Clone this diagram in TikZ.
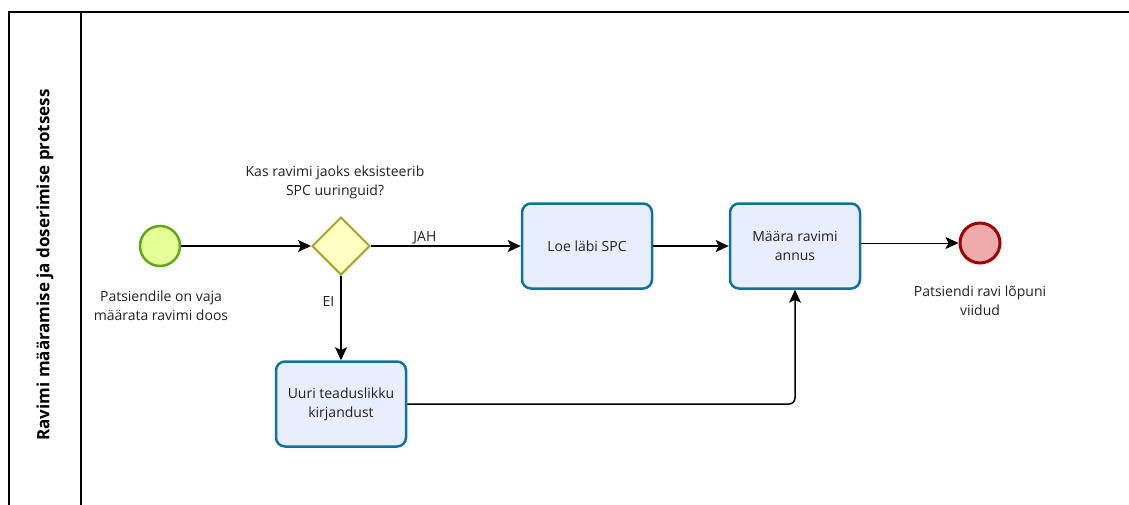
\documentclass[tikz,border=0pt]{standalone}
\usepackage{fontspec}
\setmainfont{Open Sans}
\usetikzlibrary{arrows.meta,shapes.geometric}
\definecolor{startfill}{HTML}{E6FF97}
\definecolor{startdraw}{HTML}{62A716}
\definecolor{gwfill}{HTML}{FFFFC4}
\definecolor{gwdraw}{HTML}{A8A62A}
\definecolor{taskfill}{HTML}{E9EEFF}
\definecolor{taskdraw}{HTML}{10739E}
\definecolor{endfill}{HTML}{EFAAAA}
\definecolor{enddraw}{HTML}{A20000}
\definecolor{txt}{HTML}{222222}
\tikzset{
  lbl/.style={font=\fontsize{14}{19}\selectfont, text=txt, align=center, inner sep=0pt},
  startev/.style={circle, minimum size=40pt, inner sep=0pt, fill=startfill, draw=startdraw, line width=2.5pt},
  endev/.style={circle, minimum size=40pt, inner sep=0pt, fill=endfill, draw=enddraw, line width=3pt},
  gateway/.style={diamond, minimum width=58pt, minimum height=58pt, inner sep=0pt, fill=gwfill, draw=gwdraw, line width=2pt},
  taskbox/.style={rounded corners=9pt, minimum width=130pt, minimum height=85pt, fill=taskfill, draw=taskdraw, line width=2.5pt, lbl},
  flow/.style={line width=1.5pt, -{Stealth[length=13pt,width=12pt,inset=3pt]}},
  thinflow/.style={line width=1pt, -{Stealth[length=13pt,width=12pt,inset=3pt]}},
}
\begin{document}
\begin{tikzpicture}[x=1pt,y=-1pt]
\useasboundingbox (0,0) rectangle (1129,504);
% pool
\draw[line width=1.2pt] (9,506) -- (9,12) -- (1131,12);
\draw[line width=1.2pt] (81,12) -- (81,506);
\node[rotate=90, font=\bfseries\fontsize{17}{20}\selectfont, text=black] (title) at (45,265) {Ravimi määramise ja doserimise protsess};
% nodes
\node[startev] (start) at (160,246) {};
\node[lbl] (startlbl) at (161,306) {Patsiendile on vaja\\määrata ravimi doos};
\node[gateway] (gw) at (341,246) {};
\node[lbl] (gwlbl) at (335,182) {Kas ravimi jaoks eksisteerib\\SPC uuringuid?};
\node[taskbox] (loe) at (587,246) {Loe läbi SPC};
\node[taskbox] (maara) at (795,246) {Määra ravimi\\annus};
\node[endev] (end) at (980,243) {};
\node[lbl] (endlbl) at (980,301) {Patsiendi ravi lõpuni\\viidud};
\node[taskbox] (uuri) at (341,404) {Uuri teaduslikku\\kirjandust};
% flows
\draw[flow] (start) -- (gw.west);
\draw[flow] (gw.east) -- node[lbl, above=1.5pt, pos=0.36] (jah) {JAH} (loe.west);
\draw[flow] (loe) -- (maara.west |- loe);
\draw[thinflow] (maara.east |- end) -- (end);
\draw[flow] (gw.south) -- node[lbl, left=6pt, pos=0.3] (ei) {EI} (uuri.north);
\draw[flow, rounded corners=6pt] (uuri.east) -- (maara.south |- uuri.east) -- (maara.south);
\end{tikzpicture}
\end{document}
